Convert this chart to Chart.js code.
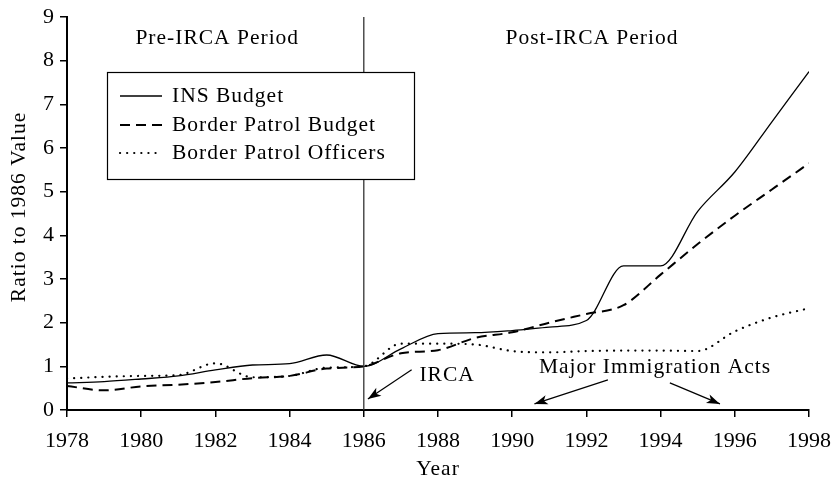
<!DOCTYPE html>
<html>
<head>
<meta charset="utf-8">
<script src="https://cdn.jsdelivr.net/npm/chart.js@4.4.1/dist/chart.umd.min.js"></script>
<style>
  html, body { margin: 0; padding: 0; background: #fff; }
  #wrap { width: 833px; height: 477px; }
</style>
</head>
<body>
<div id="wrap"><canvas id="irca"></canvas></div>
<script>
// values (ratio to 1986 value)
const years = [1978, 1979, 1980, 1981, 1982, 1983, 1984, 1985, 1986, 1987, 1988,
               1989, 1990, 1991, 1992, 1993, 1994, 1995, 1996, 1997, 1998];
const insBudget = [0.62, 0.65, 0.71, 0.78, 0.92, 1.03, 1.06, 1.26, 1.00, 1.40, 1.75,
                   1.77, 1.82, 1.90, 2.05, 3.30, 3.30, 4.55, 5.45, 6.60, 7.75];
const bpBudget = [0.55, 0.45, 0.54, 0.58, 0.64, 0.73, 0.78, 0.95, 1.00, 1.30, 1.37,
                  1.65, 1.78, 2.00, 2.20, 2.40, 3.10, 3.80, 4.45, 5.05, 5.65];
const bpOfficers = [0.72, 0.76, 0.78, 0.80, 1.07, 0.75, 0.78, 0.97, 1.00, 1.52, 1.52,
                    1.50, 1.35, 1.32, 1.35, 1.36, 1.36, 1.35, 1.80, 2.12, 2.33];
const xTicks = [1978, 1980, 1982, 1984, 1986, 1988, 1990, 1992, 1994, 1996, 1998];
const yTicks = [0, 1, 2, 3, 4, 5, 6, 7, 8, 9];

const serif = '"Liberation Serif", "DejaVu Serif", serif';
const textFont = '21.5px ' + serif;

function pts(vals) {
    return years.map((y, i) => ({ x: y, y: vals[i] }));
}

function arrow(ctx, x1, y1, x2, y2) {
    ctx.beginPath();
    ctx.moveTo(x1, y1);
    ctx.lineTo(x2, y2);
    ctx.stroke();
    const a = Math.atan2(y2 - y1, x2 - x1);
    const len = 14, w = 0.34;
    ctx.beginPath();
    ctx.moveTo(x2, y2);
    ctx.lineTo(x2 - len * Math.cos(a - w), y2 - len * Math.sin(a - w));
    ctx.lineTo(x2 - len * 0.7 * Math.cos(a), y2 - len * 0.7 * Math.sin(a));
    ctx.lineTo(x2 - len * Math.cos(a + w), y2 - len * Math.sin(a + w));
    ctx.closePath();
    ctx.fill();
}

// vertical IRCA line, period labels, arrows, axis titles and the boxed legend
const extras = {
    id: 'extras',
    afterDatasetsDraw(chart) {
        const ctx = chart.ctx;
        const xs = chart.scales.x, ys = chart.scales.y;
        const px = v => xs.getPixelForValue(v);
        const py = v => ys.getPixelForValue(v);
        const area = chart.chartArea;
        ctx.save();

        ctx.strokeStyle = '#333';
        ctx.lineWidth = 1.3;
        ctx.beginPath();
        ctx.moveTo(px(1986), area.top);
        ctx.lineTo(px(1986), area.bottom);
        ctx.stroke();

        ctx.fillStyle = '#000';
        ctx.font = textFont;
        ctx.letterSpacing = '1px';
        ctx.textAlign = 'center';
        ctx.textBaseline = 'middle';
        ctx.fillText('Pre-IRCA Period', px(1982.05), py(8.52));
        ctx.fillText('Post-IRCA Period', px(1992.15), py(8.52));

        ctx.textAlign = 'left';
        ctx.fillText('IRCA', px(1987.5), py(0.8));
        ctx.textAlign = 'center';
        ctx.fillText('Major Immigration Acts', px(1993.85), py(0.98));

        // axis titles
        ctx.textBaseline = 'alphabetic';
        ctx.fillText('Year', (area.left + area.right) / 2, 475);
        ctx.save();
        ctx.translate(25, 207);
        ctx.rotate(-Math.PI / 2);
        ctx.fillText('Ratio to 1986 Value', 0, 0);
        ctx.restore();
        ctx.textBaseline = 'middle';

        ctx.strokeStyle = '#000';
        ctx.lineWidth = 1.2;
        arrow(ctx, px(1987.29), py(0.92), px(1986.11), py(0.25));
        arrow(ctx, px(1992.58), py(0.69), px(1990.6), py(0.14));
        arrow(ctx, px(1994.25), py(0.62), px(1995.6), py(0.14));

        // legend box
        const bx = 107, by = 72, bw = 307, bh = 107;
        ctx.fillStyle = '#fff';
        ctx.fillRect(bx, by, bw, bh);
        ctx.strokeStyle = '#000';
        ctx.lineWidth = 1.2;
        ctx.strokeRect(bx + 0.5, by + 0.5, bw, bh);
        const rows = [96, 125, 153];
        chart.data.datasets.forEach((ds, i) => {
            const yy = rows[i];
            ctx.strokeStyle = '#000';
            ctx.lineWidth = ds.borderWidth;
            ctx.setLineDash(ds.borderDash || []);
            ctx.lineCap = ds.borderCapStyle || 'butt';
            ctx.beginPath();
            ctx.moveTo(120, yy);
            ctx.lineTo(162, yy);
            ctx.stroke();
            ctx.setLineDash([]);
            ctx.fillStyle = '#000';
            ctx.textAlign = 'left';
            ctx.fillText(ds.label, 172, yy);
        });
        ctx.restore();
    }
};

new Chart(document.getElementById('irca'), {
    type: 'line',
    data: {
        datasets: [
            { label: 'INS Budget', data: pts(insBudget), borderColor: '#000',
              borderWidth: 1.3, pointRadius: 0, cubicInterpolationMode: 'monotone' },
            { label: 'Border Patrol Budget', data: pts(bpBudget), borderColor: '#000',
              borderWidth: 2, borderDash: [10, 6], pointRadius: 0, cubicInterpolationMode: 'monotone' },
            { label: 'Border Patrol Officers', data: pts(bpOfficers), borderColor: '#000',
              borderWidth: 2.2, borderDash: [0.1, 7], borderCapStyle: 'round',
              pointRadius: 0, cubicInterpolationMode: 'monotone' }
        ]
    },
    options: {
        responsive: true,
        maintainAspectRatio: false,
        animation: false,
        layout: { padding: { top: 17, right: 24, left: 0, bottom: 0 } },
        plugins: { legend: { display: false }, tooltip: { enabled: false } },
        scales: {
            x: {
                type: 'linear', min: 1978, max: 1998,
                afterBuildTicks: s => { s.ticks = xTicks.map(v => ({ value: v })); },
                afterFit: s => { s.height = 67; s.paddingLeft = 0; s.paddingRight = 0; },
                border: { display: true, color: '#000', width: 2 },
                grid: { drawOnChartArea: false, drawTicks: true, tickLength: 7, color: '#000', lineWidth: 1.5 },
                ticks: { color: '#000', font: { family: serif, size: 22 }, padding: 11,
                         maxRotation: 0, callback: v => String(v) },
                title: { display: false }
            },
            y: {
                min: 0, max: 9,
                afterBuildTicks: s => { s.ticks = yTicks.map(v => ({ value: v })); },
                afterFit: s => { s.width = 67; s.paddingTop = 0; s.paddingBottom = 0; },
                border: { display: true, color: '#000', width: 2 },
                grid: { drawOnChartArea: false, drawTicks: true, tickLength: 7, color: '#000', lineWidth: 1.5 },
                ticks: { color: '#000', font: { family: serif, size: 22 }, padding: 6 },
                title: { display: false }
            }
        }
    },
    plugins: [extras]
});
</script>
</body>
</html>
